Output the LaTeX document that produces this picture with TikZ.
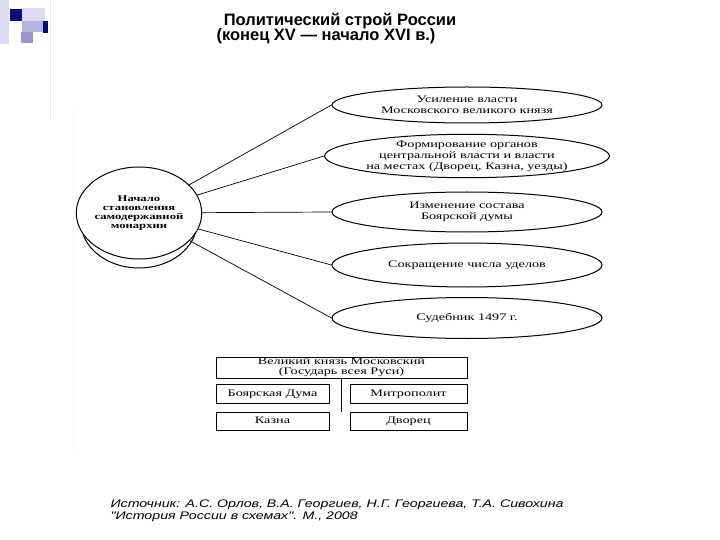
\documentclass[tikz,border=0pt]{standalone}
\usepackage{fontspec}
\setmainfont{Liberation Serif}
\newfontfamily\dfont[FakeStretch=1.42]{Liberation Serif}
\newfontfamily\tfont{Liberation Sans}
\newfontfamily\sfont[FakeStretch=1.29]{Liberation Sans}
\usetikzlibrary{shapes.geometric}
\definecolor{dblue}{RGB}{12,12,130}
\definecolor{lav1}{RGB}{218,218,240}
\definecolor{lav2}{RGB}{180,180,220}
\definecolor{lav3}{RGB}{150,150,200}
\begin{document}
\begin{tikzpicture}[x=1pt,y=1pt,
  oval/.style={draw,line width=1pt,ellipse,inner sep=0pt,minimum width=270,minimum height=40,
    align=center,font=\fontsize{10}{11}\selectfont\dfont},
  boxn/.style={draw,line width=1pt,inner sep=0pt,minimum height=19,
    align=center,font=\fontsize{10}{10.2}\selectfont\dfont},
  one/.style={text height=7pt,text depth=2pt},
  conn/.style={line width=0.7pt}]
\useasboundingbox (0,0) rectangle (720,-540);
\fill[white] (0,0) rectangle (720,-540);
% logo
\fill[lav1] (0,0) rectangle (9,-44);
\fill[lav1] (22,-8) rectangle (45,-21);
\fill[dblue] (10,-9) rectangle (22,-21);
\fill[lav2] (22,-21) rectangle (43,-32);
\fill[dblue] (43,-21) rectangle (48,-33);
\fill[lav3] (21,-32) rectangle (33,-43);
\draw[gray!20,line width=1pt] (50,0) -- (50,-120);
\draw[gray!6,line width=1pt] (73,-110) -- (73,-450);
% title
\node[font=\fontsize{16.5}{16}\selectfont\tfont\bfseries] (t1) at (340,-21) {Политический строй России};
\node[font=\fontsize{16.5}{16}\selectfont\tfont\bfseries] (t2) at (326,-36) {(конец XV — начало XVI в.)};
% central disk
\draw[line width=1pt] ([shift={(139,-222)}]180:58 and 46) arc[start angle=180,end angle=360,x radius=58,y radius=46];
\node[draw,line width=1pt,fill=white,ellipse,inner sep=0pt,minimum width=116,minimum height=92,align=center,
  font=\fontsize{8.9}{9}\selectfont\dfont\bfseries] (c) at (139,-213) {Начало\\становления\\самодержавной\\монархии};
% ovals
\node[oval,minimum height=36] (e1) at (467,-105) {Усиление власти\\Московского великого князя};
\node[oval] (e2) at (467,-156) {Формирование органов\\центральной власти и власти\\на местах (Дворец, Казна, уезды)};
\node[oval] (e3) at (467,-212) {Изменение состава\\Боярской думы};
\node[oval,minimum height=44,one] (e4) at (467,-265) {Сокращение числа уделов};
\node[oval,minimum height=41,one] (e5) at (467,-318) {Судебник 1497 г.};
\foreach \e in {e1,e2,e3,e4,e5} \draw[conn] (c) -- (\e.west);
% boxes
\node[boxn,minimum width=251,minimum height=21] (top) at (341.5,-367.5) {Великий князь Московский\\(Государь всея Руси)};
\node[boxn,minimum width=113,one] (duma) at (272.5,-393.5) {Боярская Дума};
\node[boxn,minimum width=117,one] (mitr) at (408.5,-393.5) {Митрополит};
\node[boxn,minimum width=113,minimum height=18,one] (kazna) at (272.5,-421) {Казна};
\node[boxn,minimum width=117,minimum height=18,one] (dvor) at (408.5,-421) {Дворец};
\draw[line width=1.2pt] (top.south) -- (top.south |- kazna.north);
% source
\node[anchor=west,align=left,font=\fontsize{11}{12}\selectfont\sfont\itshape] (src) at (107,-511)
  {Источник: А.С. Орлов, В.А. Георгиев, Н.Г. Георгиева, Т.А. Сивохина\\"История России в схемах". М., 2008};
\end{tikzpicture}
\end{document}
